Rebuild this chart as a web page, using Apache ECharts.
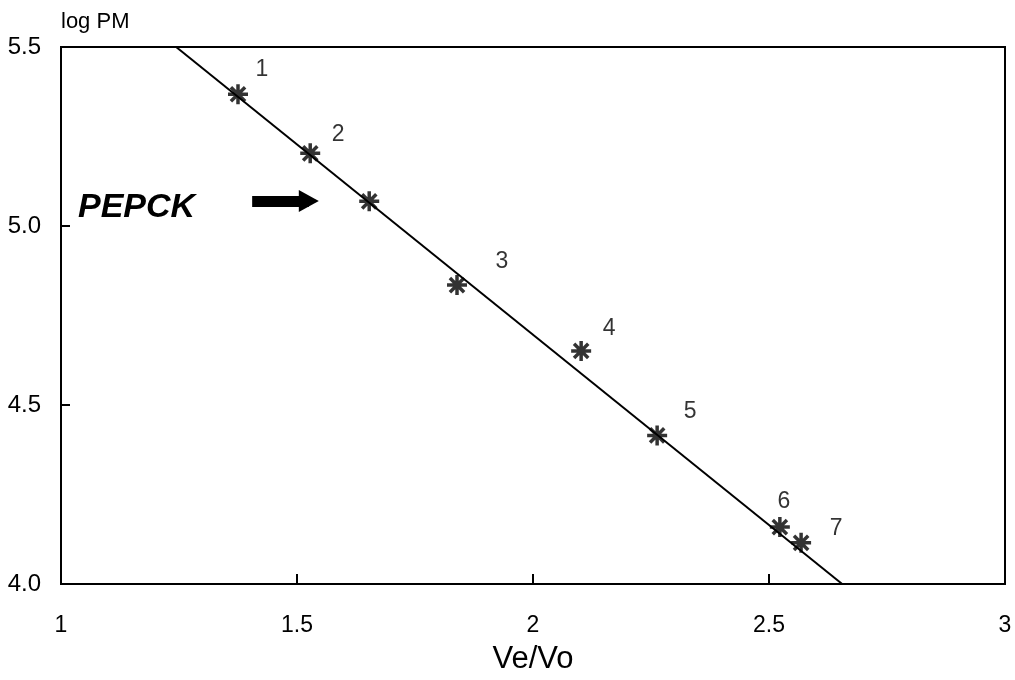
<!DOCTYPE html>
<html>
<head>
<meta charset="utf-8">
<script src="https://cdn.jsdelivr.net/npm/echarts@6/dist/echarts.min.js"></script>
<style>
  html, body { margin: 0; padding: 0; background: #fff; }
  #chart { width: 1015px; height: 680px; }
</style>
</head>
<body>
<div id="chart"></div>
<script>
// Elution volume ratio (Ve/Vo) against log molecular weight for the calibration standards
const standardNames = ['1', '2', '3', '4', '5', '6', '7'];
const standardVeVo = [1.375, 1.528, 1.839, 2.102, 2.263, 2.523, 2.568];
const standardLogPM = [5.368, 5.203, 4.835, 4.651, 4.415, 4.159, 4.115];

// The unknown protein
const sampleName = 'PEPCK';
const sampleVeVo = [1.653];
const sampleLogPM = [5.069];

// Fitted calibration line end points
const fitVeVo = [1.244, 2.655];
const fitLogPM = [5.5, 4.0];

// Axis ticks
const xTicks = [1, 1.5, 2, 2.5, 3];
const yTicks = [4.0, 4.5, 5.0, 5.5];

// Label offsets (px) for the numbered standards
const labelOffsets = [[24, -25], [28, -19], [45, -23], [28, -22], [33, -24], [4, -25], [35, -14]];

const FONT = '"Liberation Sans", Arial, sans-serif';
const asterisk = 'path://M0,-10L0,10M-10,0L10,0M-7.1,-7.1L7.1,7.1M-7.1,7.1L7.1,-7.1';

const chart = echarts.init(document.getElementById('chart'));

const standardData = standardVeVo.map((x, i) => ({
  value: [x, standardLogPM[i]],
  name: standardNames[i],
  label: { offset: labelOffsets[i] }
}));

chart.setOption({
  backgroundColor: '#fff',
  animation: false,
  grid: {
    left: 61, right: 10, top: 47, bottom: 88,
    show: true, borderColor: '#000', borderWidth: 2
  },
  xAxis: {
    type: 'value',
    min: xTicks[0], max: xTicks[xTicks.length - 1], interval: 0.5,
    name: 'Ve/Vo',
    nameLocation: 'middle',
    nameGap: 60,
    nameTextStyle: { fontFamily: FONT, fontSize: 31, color: '#000' },
    axisLine: { show: true, lineStyle: { color: '#000', width: 2 } },
    axisTick: { show: true, inside: true, length: 10, lineStyle: { color: '#000', width: 2 } },
    axisLabel: {
      color: '#000', fontFamily: FONT, fontSize: 23, margin: 30,
      formatter: v => String(v)
    },
    splitLine: { show: false }
  },
  yAxis: {
    type: 'value',
    min: yTicks[0], max: yTicks[yTicks.length - 1], interval: 0.5,
    name: 'log PM',
    nameLocation: 'end',
    nameGap: 14,
    nameTextStyle: { fontFamily: FONT, fontSize: 22, color: '#000', align: 'left' },
    axisLine: { show: true, lineStyle: { color: '#000', width: 2 } },
    axisTick: { show: true, inside: true, length: 9, lineStyle: { color: '#000', width: 2 } },
    axisLabel: {
      color: '#000', fontFamily: FONT, fontSize: 24, margin: 20,
      formatter: v => v.toFixed(1)
    },
    splitLine: { show: false }
  },
  series: [
    {
      type: 'line',
      data: fitVeVo.map((x, i) => [x, fitLogPM[i]]),
      showSymbol: false,
      symbol: 'none',
      lineStyle: { color: '#000', width: 2 },
      z: 2
    },
    {
      type: 'scatter',
      data: standardData,
      symbol: asterisk,
      symbolSize: 20,
      itemStyle: { color: '#000', borderColor: '#000', borderWidth: 3.5 },
      label: {
        show: true,
        position: 'inside',
        formatter: p => p.name,
        color: '#000',
        fontFamily: FONT,
        fontSize: 23
      },
      z: 3
    },
    {
      type: 'scatter',
      name: sampleName,
      data: sampleVeVo.map((x, i) => [x, sampleLogPM[i]]),
      symbol: asterisk,
      symbolSize: 20,
      itemStyle: { color: '#000', borderColor: '#000', borderWidth: 3.5 },
      markLine: {
        silent: true,
        symbol: ['none', 'triangle'],
        symbolSize: [22, 20],
        lineStyle: { color: '#000', width: 11, type: 'solid' },
        label: { show: false },
        data: [[{ coord: [1.405, 5.07] }, { coord: [1.525, 5.07] }]]
      },
      z: 3
    }
  ],
  graphic: [
    {
      type: 'text',
      left: 78,
      top: 191,
      style: {
        text: sampleName,
        fontFamily: FONT,
        fontSize: 34,
        fontWeight: 'bold',
        fontStyle: 'italic',
        fill: '#000'
      }
    }
  ]
});
</script>
</body>
</html>
